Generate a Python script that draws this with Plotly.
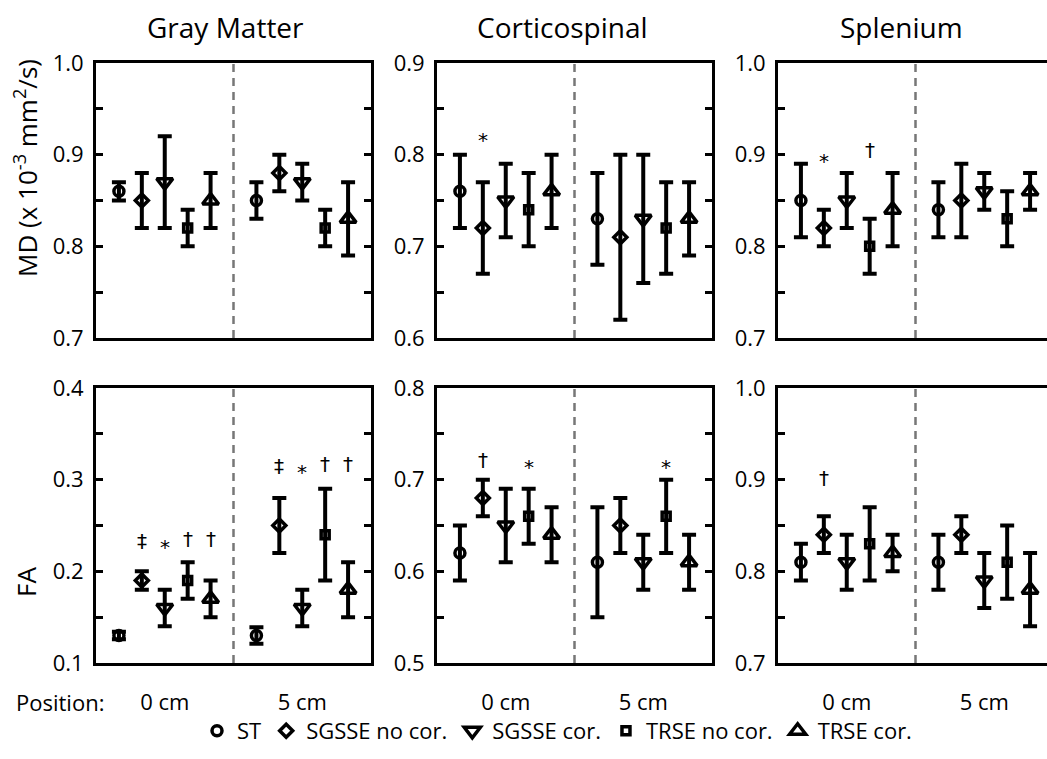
import numpy as np
import plotly.graph_objects as go
from plotly.subplots import make_subplots

W, H = 1047, 759
FONT = "Open Sans"

regions = ["Gray Matter", "Corticospinal", "Splenium"]
series = ["ST", "SGSSE no cor.", "SGSSE cor.", "TRSE no cor.", "TRSE cor."]
positions = ["0 cm", "5 cm"]
metric_titles = ["MD (x 10<sup>-3</sup> mm<sup>2</sup>/s)", "FA"]

# ---- MD (x 10^-3 mm^2/s) ----
gm_md_0 = [0.86, 0.85, 0.87, 0.82, 0.85]
gm_md_0_err = [0.01, 0.03, 0.05, 0.02, 0.03]
gm_md_5 = [0.85, 0.88, 0.87, 0.82, 0.83]
gm_md_5_err = [0.02, 0.02, 0.02, 0.02, 0.04]

cs_md_0 = [0.76, 0.72, 0.75, 0.74, 0.76]
cs_md_0_err = [0.04, 0.05, 0.04, 0.04, 0.04]
cs_md_5 = [0.73, 0.71, 0.73, 0.72, 0.73]
cs_md_5_err = [0.05, 0.09, 0.07, 0.05, 0.04]

sp_md_0 = [0.85, 0.82, 0.85, 0.80, 0.84]
sp_md_0_err = [0.04, 0.02, 0.03, 0.03, 0.04]
sp_md_5 = [0.84, 0.85, 0.86, 0.83, 0.86]
sp_md_5_err = [0.03, 0.04, 0.02, 0.03, 0.02]

# ---- FA ----
gm_fa_0 = [0.13, 0.19, 0.16, 0.19, 0.17]
gm_fa_0_err = [0.004, 0.01, 0.02, 0.02, 0.02]
gm_fa_5 = [0.13, 0.25, 0.16, 0.24, 0.18]
gm_fa_5_err = [0.009, 0.03, 0.02, 0.05, 0.03]

cs_fa_0 = [0.62, 0.68, 0.65, 0.66, 0.64]
cs_fa_0_err = [0.03, 0.02, 0.04, 0.03, 0.03]
cs_fa_5 = [0.61, 0.65, 0.61, 0.66, 0.61]
cs_fa_5_err = [0.06, 0.03, 0.03, 0.04, 0.03]

sp_fa_0 = [0.81, 0.84, 0.81, 0.83, 0.82]
sp_fa_0_err = [0.02, 0.02, 0.03, 0.04, 0.02]
sp_fa_5 = [0.81, 0.84, 0.79, 0.81, 0.78]
sp_fa_5_err = [0.03, 0.02, 0.03, 0.04, 0.04]

md_ranges = [(0.7, 1.0), (0.6, 0.9), (0.7, 1.0)]
fa_ranges = [(0.1, 0.4), (0.5, 0.8), (0.7, 1.0)]

# significance marks: (row, col, position index, series index, symbol, y)
sig_row = [0, 0, 0, 1, 1, 1, 1, 1, 1, 1, 1, 1, 1, 1, 1]
sig_col = [1, 2, 2, 0, 0, 0, 0, 0, 0, 0, 0, 1, 1, 1, 2]
sig_pos = [0, 0, 0, 0, 0, 0, 0, 1, 1, 1, 1, 0, 0, 1, 0]
sig_ser = [1, 1, 3, 1, 2, 3, 4, 1, 2, 3, 4, 1, 3, 3, 1]
sig_sym = ["*", "*", "†", "‡", "*", "†", "†", "‡", "*", "†", "†", "†", "*", "*", "†"]
sig_y = [0.823, 0.90, 0.905, 0.233, 0.233, 0.235, 0.235, 0.315, 0.315, 0.317, 0.317,
         0.722, 0.72, 0.72, 0.902]

panels = [
    [(gm_md_0, gm_md_0_err, gm_md_5, gm_md_5_err),
     (cs_md_0, cs_md_0_err, cs_md_5, cs_md_5_err),
     (sp_md_0, sp_md_0_err, sp_md_5, sp_md_5_err)],
    [(gm_fa_0, gm_fa_0_err, gm_fa_5, gm_fa_5_err),
     (cs_fa_0, cs_fa_0_err, cs_fa_5, cs_fa_5_err),
     (sp_fa_0, sp_fa_0_err, sp_fa_5, sp_fa_5_err)],
]
ranges = [md_ranges, fa_ranges]

# styles
symbols = ["circle-open", "diamond-open", "triangle-down-open", "square-open", "triangle-up-open"]
msizes = [10, 10, 14, 8, 14]

n_s = len(series)
group_w = n_s + 1  # slots per position group (5 series + gap)

col_px = [(96, 371), (437, 712), (778, 1053)]
row_px = [(63, 338), (388, 663)]

fig = make_subplots(rows=2, cols=3)

for r in range(2):
    for c in range(3):
        m0, e0, m5, e5 = panels[r][c]
        for s in range(n_s):
            xs = [g * group_w + s + 1 for g in range(len(positions))]
            fig.add_trace(go.Scatter(
                x=xs, y=[m0[s], m5[s]], mode="markers", name=series[s],
                legendgroup=series[s], showlegend=(r == 0 and c == 0),
                marker=dict(symbol=symbols[s], size=msizes[s], color="black",
                            line=dict(color="black", width=3.5)),
                error_y=dict(type="data", array=[e0[s], e5[s]], color="black",
                             thickness=4, width=7),
            ), row=r + 1, col=c + 1)

        x0p, x1p = col_px[c]
        x1v = min(x1p, W)
        full = 2 * group_w
        xr = [0, full * (x1v - x0p) / (x1p - x0p)]
        y0p, y1p = row_px[r]
        lo, hi = ranges[r][c]
        tv = np.round(np.arange(lo, hi + 1e-9, 0.05), 2)
        tt = [f"{v:.1f}" if abs(v * 10 - round(v * 10)) < 1e-6 else " " for v in tv]
        fig.update_xaxes(
            domain=[x0p / W, x1v / W], range=xr, showline=True, linewidth=3,
            linecolor="black", mirror=True, ticks="", showgrid=False, zeroline=False,
            automargin=False,
            tickvals=[g * group_w + (n_s + 1) / 2 for g in range(len(positions))],
            ticktext=positions, showticklabels=(r == 1),
            tickfont=dict(family=FONT, size=22, color="black"), ticklabelstandoff=18,
            row=r + 1, col=c + 1)
        fig.update_yaxes(
            domain=[(H - y1p) / H, (H - y0p) / H], range=[lo, hi], showline=True,
            linewidth=3, linecolor="black", mirror=("ticks" if x1p <= W else False),
            ticks="inside", ticklen=7, tickwidth=3, tickcolor="black", automargin=False,
            tickvals=list(tv), ticktext=tt, showgrid=False, zeroline=False,
            tickfont=dict(family=FONT, size=22, color="black"), ticklabelstandoff=5,
            row=r + 1, col=c + 1)
        idx = r * 3 + c + 1
        sfx = "" if idx == 1 else str(idx)
        fig.add_shape(type="line", xref="x" + sfx, yref="y" + sfx + " domain",
                      x0=group_w, x1=group_w, y0=0, y1=1, layer="below",
                      line=dict(color="#777777", width=2.5, dash="8px,6px"))

# significance annotations
for k in range(len(sig_sym)):
    idx = sig_row[k] * 3 + sig_col[k] + 1
    sfx = "" if idx == 1 else str(idx)
    fig.add_annotation(
        x=sig_pos[k] * group_w + sig_ser[k] + 1, y=sig_y[k], xref="x" + sfx, yref="y" + sfx,
        xanchor="center", yanchor="middle",
        text=sig_sym[k], showarrow=False, yshift=(-6 if sig_sym[k] == "*" else 0),
        font=dict(family="DejaVu Sans", size=20, color="black"))

# column titles
title_px = [225, 562, 901]
for c in range(3):
    fig.add_annotation(x=title_px[c] / W, y=1 - 27 / H, xref="paper", yref="paper",
                       xanchor="center", yanchor="middle",
                       text=regions[c], showarrow=False,
                       font=dict(family=FONT, size=28, color="black"))

# row titles
rowtitle_py = [168, 582]
for r in range(2):
    fig.add_annotation(x=26 / W, y=1 - rowtitle_py[r] / H, xref="paper", yref="paper",
                       xanchor="center", yanchor="middle",
                       text=metric_titles[r], textangle=-90, showarrow=False,
                       font=dict(family=FONT, size=26, color="black"))

fig.add_annotation(x=14 / W, y=1 - 702 / H, xref="paper", yref="paper",
                   xanchor="left", yanchor="middle",
                   text="Position:", showarrow=False,
                   font=dict(family=FONT, size=22, color="black"))

fig.update_layout(
    template="none",
    width=W, height=H, autosize=False,
    margin=dict(l=0, r=0, t=0, b=0),
    paper_bgcolor="white", plot_bgcolor="white",
    font=dict(family=FONT, color="black"),
    legend=dict(orientation="h", x=557 / W, y=1 - 731 / H, xanchor="center", yanchor="middle",
                font=dict(family=FONT, size=22, color="black"), itemwidth=30,
                bgcolor="rgba(0,0,0,0)"),
)

fig.write_html("out.html")
